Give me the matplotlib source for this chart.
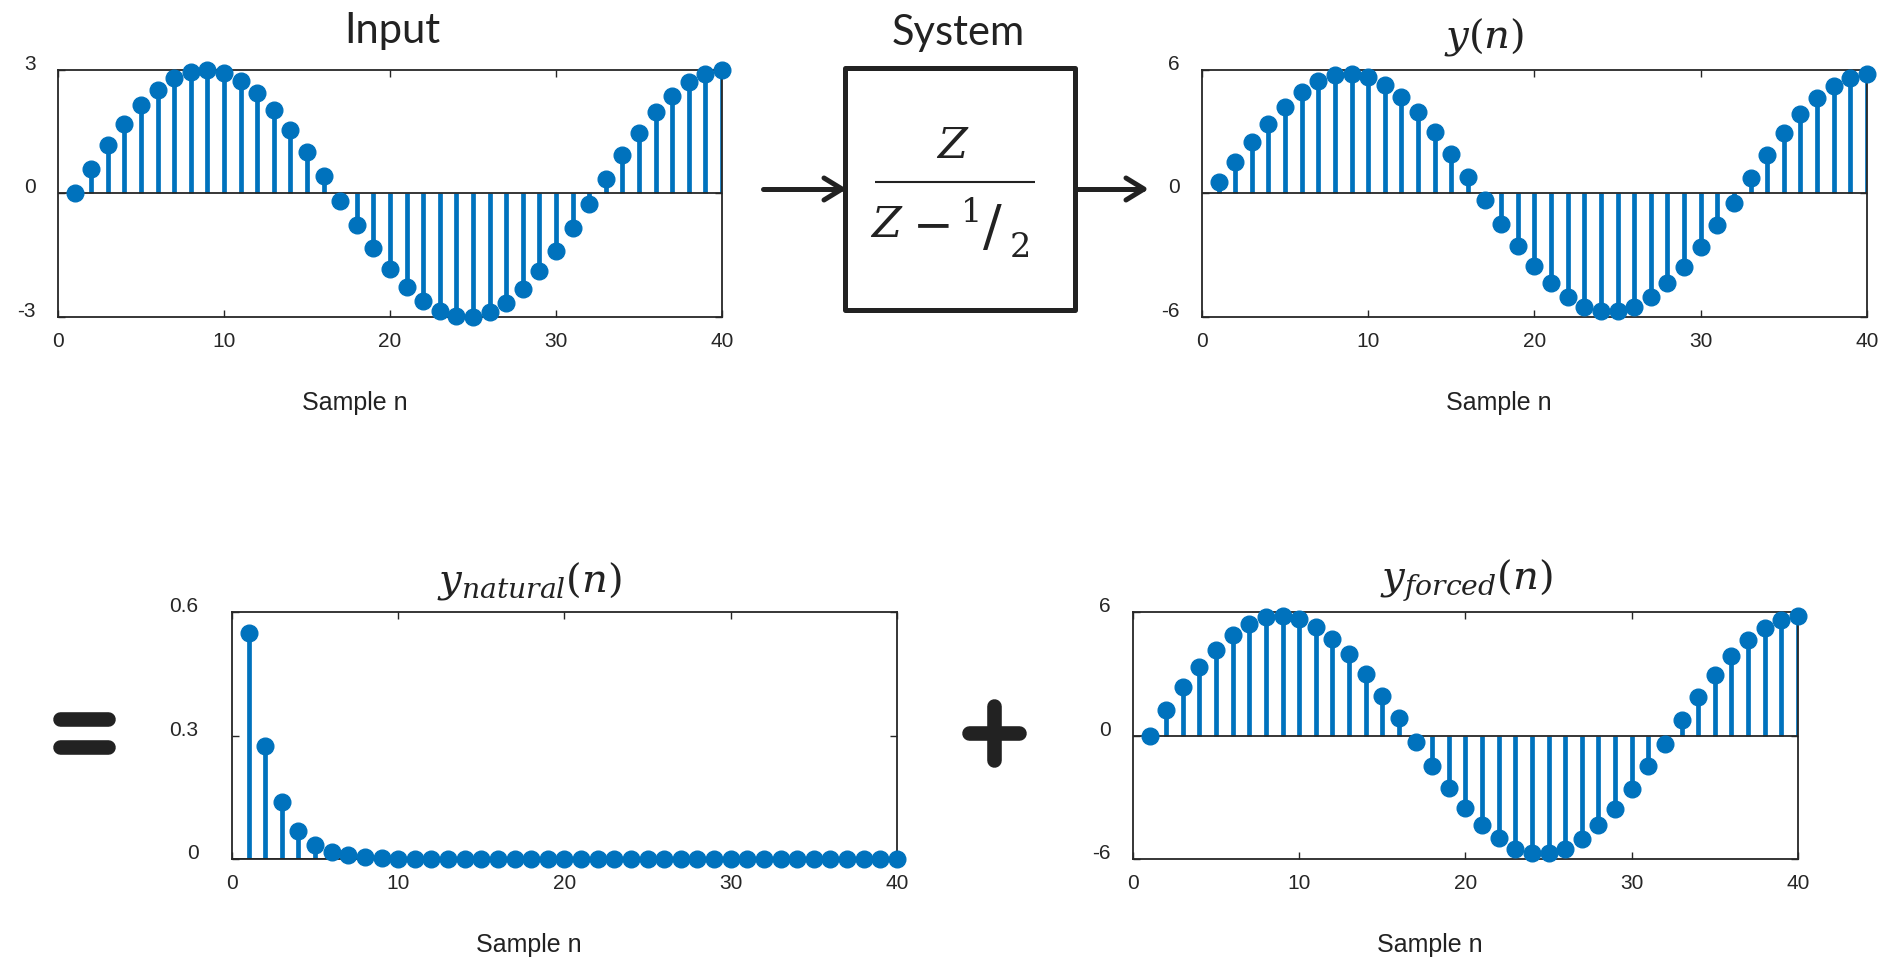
import matplotlib
matplotlib.use("Agg")
import matplotlib.pyplot as plt

# sample index and the four signals
n = list(range(1, 41))

x_input = [0.00, 0.60, 1.17, 1.69, 2.15, 2.52, 2.80, 2.96, 3.00, 2.92,
           2.73, 2.43, 2.03, 1.55, 1.01, 0.42, -0.18, -0.77, -1.33, -1.84,
           -2.27, -2.61, -2.85, -2.98, -2.99, -2.88, -2.65, -2.32, -1.89, -1.39,
           -0.84, -0.25, 0.35, 0.93, 1.48, 1.97, 2.38, 2.70, 2.90, 3.00]

y_total = [0.55, 1.54, 2.48, 3.40, 4.22, 4.93, 5.46, 5.75, 5.82, 5.66,
           5.27, 4.70, 3.94, 2.97, 1.94, 0.81, -0.34, -1.49, -2.54, -3.52,
           -4.33, -5.01, -5.49, -5.70, -5.70, -5.49, -5.01, -4.36, -3.55, -2.58,
           -1.54, -0.44, 0.73, 1.86, 2.93, 3.84, 4.64, 5.22, 5.62, 5.82]

y_natural = [0.550, 0.275, 0.138, 0.069, 0.034, 0.017, 0.009, 0.004, 0.002, 0.001,
             0.0, 0.0, 0.0, 0.0, 0.0, 0.0, 0.0, 0.0, 0.0, 0.0,
             0.0, 0.0, 0.0, 0.0, 0.0, 0.0, 0.0, 0.0, 0.0, 0.0,
             0.0, 0.0, 0.0, 0.0, 0.0, 0.0, 0.0, 0.0, 0.0, 0.0]

y_forced = [0.00, 1.26, 2.35, 3.32, 4.17, 4.90, 5.44, 5.76, 5.82, 5.68,
            5.27, 4.71, 3.95, 2.99, 1.94, 0.83, -0.32, -1.46, -2.56, -3.53,
            -4.35, -5.00, -5.50, -5.73, -5.73, -5.50, -5.02, -4.37, -3.56, -2.59,
            -1.49, -0.39, 0.74, 1.88, 2.93, 3.85, 4.66, 5.24, 5.60, 5.79]

x_ticks = [0, 10, 20, 30, 40]
x_ticklabels = ["0", "10", "20", "30", "40"]

BLUE = "#0072BD"
DARK = "#262626"
INK = "#222222"

plt.rcParams["mathtext.fontset"] = "dejavuserif"
plt.rcParams["font.family"] = ["Liberation Sans", "DejaVu Sans"]

W, H = 1883, 966
fig = plt.figure(figsize=(W / 100, H / 100), dpi=100)


def add_px_axes(l, t, r, b):
    return fig.add_axes([l / W, 1 - b / H, (r - l) / W, (b - t) / H])


def stem_panel(ax, vals, ylim, yticks, ylabels, ypad):
    markerline, stemlines, baseline = ax.stem(n, vals)
    baseline.set_visible(False)
    plt.setp(stemlines, color=BLUE, linewidth=3.4)
    plt.setp(markerline, color=BLUE, markersize=12, clip_on=False, zorder=3)
    ax.axhline(0, color=DARK, lw=1.3, zorder=2.5)
    ax.set_xlim(0, 40)
    ax.set_ylim(*ylim)
    ax.set_xticks(x_ticks)
    ax.set_xticklabels(x_ticklabels)
    ax.set_yticks(yticks)
    ax.set_yticklabels(ylabels)
    for lbl in ax.get_yticklabels():
        lbl.set_va("baseline")
    ax.tick_params(axis="both", direction="in", length=5, width=1, color=DARK,
                   labelcolor=DARK, labelsize=15, top=True, right=True)
    ax.tick_params(axis="x", pad=11)
    ax.tick_params(axis="y", pad=ypad)
    for sp in ax.spines.values():
        sp.set_color(DARK)
        sp.set_linewidth(1.3)
    ax.set_xlabel("Sample n", fontsize=18, color=INK)
    ax.xaxis.set_label_coords(0.447, -0.348)
    ax.xaxis.label.set_va("center")


ax1 = add_px_axes(58, 70, 722, 317)
stem_panel(ax1, x_input, (-3, 3), [-3, 0, 3], ["-3", "0", "3"], 16)

ax2 = add_px_axes(1202, 70, 1867, 317)
stem_panel(ax2, y_total, (-6, 6), [-6, 0, 6], ["-6", "0", "6"], 16)

ax3 = add_px_axes(232, 612, 897, 859)
stem_panel(ax3, y_natural, (0, 0.6), [0, 0.3, 0.6], ["0", "0.3", "0.6"], 24)

ax4 = add_px_axes(1133, 612, 1798, 859)
stem_panel(ax4, y_forced, (-6, 6), [-6, 0, 6], ["-6", "0", "6"], 16)

# block diagram, titles and operators in pixel space
ov = fig.add_axes([0, 0, 1, 1])
ov.set_xlim(0, W)
ov.set_ylim(H, 0)
ov.set_axis_off()
ov.set_zorder(-1)

title_font = dict(family="Lato", fontsize=30, color=INK, ha="center", va="baseline")
ov.text(392, 43, "Input", **title_font)
ov.text(958, 45, "System", **title_font)

math_font = dict(fontsize=29, color=INK, ha="center", va="baseline")
ov.text(1484, 48, r"$y(n)$", **math_font)
ov.text(530, 591, r"$y_{natural}(n)$", **math_font)
ov.text(1466, 590, r"$y_{forced}(n)$", **math_font)

# system box with transfer function z / (z - 1/2)
ov.add_patch(plt.Rectangle((845, 68), 230, 242, fill=False, ec=INK, lw=3.6,
                           joinstyle="round"))
ov.plot([875, 1035], [182, 182], color=INK, lw=1.5, solid_capstyle="butt")
serif_it = dict(family="DejaVu Serif", style="italic", color=INK, va="baseline")
serif = dict(family="DejaVu Serif", color=INK, va="baseline")
ov.text(952, 158, "Z", fontsize=31, ha="center", **serif_it)
ov.text(886, 237, "Z", fontsize=31, ha="center", **serif_it)
ov.text(933, 240, "\u2212", fontsize=35, ha="center", **serif)
ov.text(972, 222, "1", fontsize=24, ha="center", **serif)
ov.text(992, 245, "/", fontsize=40, ha="center", **serif)
ov.text(1020, 257, "2", fontsize=24, ha="center", **serif)

# input / output arrows
arrow_kw = dict(color=INK, lw=3.6, solid_capstyle="round", solid_joinstyle="round")
ov.plot([763, 841], [189, 189], **arrow_kw)
ov.plot([824, 842, 824], [178, 189, 200], **arrow_kw)
ov.plot([1075, 1143], [189, 189], **arrow_kw)
ov.plot([1126, 1144, 1126], [178, 189, 200], **arrow_kw)

# equals and plus signs
sign_kw = dict(color=INK, lw=10.5, solid_capstyle="round")
ov.plot([60, 108], [719, 719], **sign_kw)
ov.plot([60, 108], [747, 747], **sign_kw)
ov.plot([969, 1019], [733, 733], **sign_kw)
ov.plot([994, 994], [706, 760], **sign_kw)

fig.savefig("out.png", dpi=100)
